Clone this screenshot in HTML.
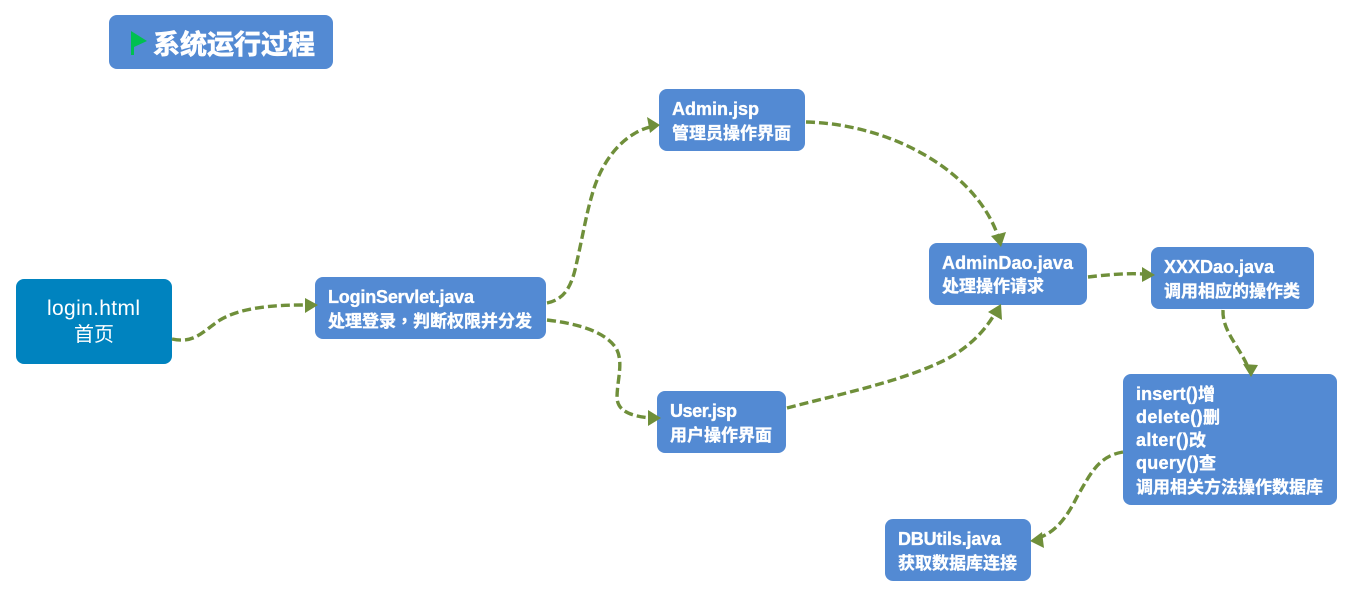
<!DOCTYPE html>
<html>
<head>
<meta charset="utf-8">
<style>
html,body{margin:0;padding:0;background:#fff;width:1353px;height:597px;overflow:hidden}
svg{display:block}
text{font-family:"Liberation Sans","Noto Sans CJK SC",sans-serif;fill:#fff;font-weight:700;font-size:17px;stroke:#fff;stroke-width:.35px}
tspan.e{font-size:18px}
tspan.c{font-family:"Noto Sans CJK TC",sans-serif}
text.n{font-size:20px;font-weight:400;stroke:none}
.l{fill:none;stroke:#6f8f3a;stroke-width:3.4;stroke-dasharray:9 4}
.a{fill:#6f8f3a}
.b{fill:#538ad3}
</style>
</head>
<body>
<svg width="1353" height="597" viewBox="0 0 1353 597" xmlns="http://www.w3.org/2000/svg">
<rect class="b" x="109" y="15" width="224" height="54" rx="8"/>
<path d="M131 31L147 41L134 47V55H131Z" fill="#00c050"/>
<text x="153" y="54" style="font-size:27px;stroke-width:.7px" textLength="162">系统运行过程</text>

<rect x="16" y="279" width="156" height="85" rx="8" fill="#0083bf"/>
<text class="n" x="47" y="315" style="font-size:21px" textLength="93">login.html</text>
<text class="n" x="74" y="341" textLength="40">首页</text>

<rect class="b" x="315" y="277" width="231" height="62" rx="8"/>
<text x="328" y="303" textLength="146"><tspan class="e">LoginServlet.java</tspan></text>
<text x="328" y="327" textLength="204">处理登录<tspan class="c">，</tspan>判断权限并分发</text>

<rect class="b" x="659" y="89" width="146" height="62" rx="8"/>
<text x="672" y="115" textLength="87"><tspan class="e">Admin.jsp</tspan></text>
<text x="672" y="139" textLength="119">管理员操作界面</text>

<rect class="b" x="657" y="391" width="129" height="62" rx="8"/>
<text x="670" y="417" textLength="67"><tspan class="e">User.jsp</tspan></text>
<text x="670" y="441" textLength="102">用户操作界面</text>

<rect class="b" x="929" y="243" width="158" height="62" rx="8"/>
<text x="942" y="269" textLength="131"><tspan class="e">AdminDao.java</tspan></text>
<text x="942" y="292" textLength="102">处理操作请求</text>

<rect class="b" x="1151" y="247" width="163" height="62" rx="8"/>
<text x="1164" y="273" textLength="110"><tspan class="e">XXXDao.java</tspan></text>
<text x="1164" y="297" textLength="136">调用相应的操作类</text>

<rect class="b" x="1123" y="374" width="214" height="131" rx="8"/>
<text x="1136" y="400" textLength="79"><tspan class="e">insert()</tspan>增</text>
<text x="1136" y="423" textLength="84"><tspan class="e">delete()</tspan>删</text>
<text x="1136" y="446" textLength="70"><tspan class="e">alter()</tspan>改</text>
<text x="1136" y="469" textLength="80"><tspan class="e">query()</tspan>查</text>
<text x="1136" y="493" textLength="187">调用相关方法操作数据库</text>

<rect class="b" x="885" y="519" width="146" height="62" rx="8"/>
<text x="898" y="545" textLength="103"><tspan class="e">DBUtils.java</tspan></text>
<text x="898" y="569" textLength="119">获取数据库连接</text>

<path class="l" d="M172 339C195 344 203 331 220 320C240 308 270 305 305 305"/>
<polygon class="a" points="318,305 305,298 305,313"/>

<path class="l" d="M547 303C562 300 570 290 575 270C582 240 586 215 592 195C600 165 620 135 650 127"/>
<polygon class="a" points="660,125 647,117 650,133"/>

<path class="l" d="M806 122C890 124 975 170 998 236"/>
<polygon class="a" points="1001,247 991,236 1006,232"/>

<path class="l" d="M547 320C580 324 605 332 616 348C624 362 617 380 617 398C618 412 632 416 650 418"/>
<polygon class="a" points="661,418 648,410 648,426"/>

<path class="l" d="M787 408C840 394 900 382 945 360C970 347 985 330 994 315"/>
<polygon class="a" points="1001,304 988,312 1002,320"/>

<path class="l" d="M1088 277C1105 275 1125 273 1143 274"/>
<polygon class="a" points="1155,275 1142,267 1142,282"/>

<path class="l" d="M1223 310C1222 330 1238 345 1247 365"/>
<polygon class="a" points="1251,377 1243,364 1258,365"/>

<path class="l" d="M1123 452C1098 456 1090 475 1078 495C1068 515 1058 530 1041 537"/>
<polygon class="a" points="1030,541 1042,532 1044,548"/>
</svg>
</body>
</html>
